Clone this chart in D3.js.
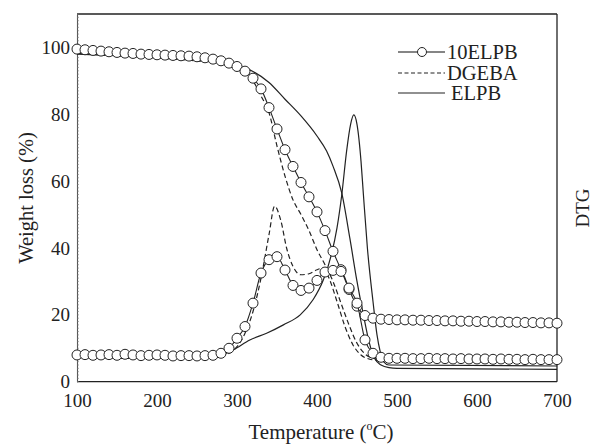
<!DOCTYPE html>
<html>
<head>
<meta charset="utf-8">
<script src="https://cdn.jsdelivr.net/npm/d3@7"></script>
<style>
  body { margin: 0; background: #fff; }
  svg text { font-family: "Liberation Serif", "DejaVu Serif", serif; }
</style>
</head>
<body>
<div id="view"></div>
<script>
// temperature grid of the marked series (every 10 degC)
var temps = [100,110,120,130,140,150,160,170,180,190,200,210,220,230,240,250,260,270,280,290,
  300,310,320,330,340,350,360,370,380,390,400,410,420,430,440,450,460,470,480,490,
  500,510,520,530,540,550,560,570,580,590,600,610,620,630,640,650,660,670,680,690,700];

// 10ELPB weight loss and DTG
var elpb10TG = [99.5,99.3,99.1,98.9,98.7,98.5,98.3,98.2,98.0,97.9,97.8,97.7,97.6,97.5,97.4,97.2,96.9,96.5,96.0,95.3,
  94.3,92.9,90.8,87.6,82.0,75.6,69.4,64.4,59.6,55.3,50.8,45.2,39.0,33.5,27.6,22.6,19.8,19.0,18.7,18.6,
  18.5,18.5,18.4,18.4,18.3,18.3,18.2,18.2,18.1,18.1,18.0,18.0,17.9,17.9,17.8,17.8,17.7,17.7,17.6,17.6,17.5];
var elpb10DTG = [8.0,8.1,7.9,8.0,8.1,7.9,8.2,8.0,7.8,7.9,8.0,7.9,7.7,7.8,7.8,7.7,7.8,7.9,8.5,10.0,
  13.0,16.5,23.5,32.5,36.5,37.4,33.4,28.8,27.3,28.0,30.3,32.8,33.3,33.0,28.0,23.5,12.5,8.5,7.3,7.0,
  7.0,7.0,6.9,6.9,7.0,6.9,6.9,6.8,6.9,6.8,6.8,6.8,6.7,6.8,6.7,6.7,6.6,6.7,6.6,6.6,6.6];

// DGEBA (dashed)
var dgebaTG_T = [100,150,200,250,280,300,310,320,330,340,350,360,370,380,390,400,410,420,430,440,450,460,470,480,500,600,700];
var dgebaTG =   [98.3,97.5,96.8,96.0,95.3,94.0,92.5,90.0,85.5,80.5,70.5,61.5,54.4,50.0,45.2,39.5,35.0,30.0,23.5,17.0,11.5,8.3,7.0,6.6,6.4,6.2,6.0];
var dgebaDTG_T = [100,200,270,290,300,310,320,330,340,347,355,362,370,380,390,400,408,415,425,435,445,455,465,480,600,700];
var dgebaDTG =   [7.2,7.0,7.2,8.5,10.5,14.5,21.0,31.0,44.0,52.5,48.0,40.0,34.5,32.0,32.3,33.5,34.0,31.0,24.0,16.5,11.0,8.0,6.8,6.3,6.1,6.0];

// ELPB (solid)
var elpbTG_T = [100,200,250,280,300,320,340,360,380,400,412,420,431,441,450,458,465,472,480,490,500,700];
var elpbTG =   [98.0,97.0,96.3,95.5,94.5,92.8,89.5,84.5,79.5,73.5,69.0,64.5,56.4,43.0,30.0,20.0,12.0,7.0,5.0,4.2,4.0,3.7];
var elpbDTG_T = [100,200,270,280,295,316,337,358,379,395,408,418,425,431,437,442,446,450,455,458,463,470,475,479,483,490,700];
var elpbDTG =   [7.3,7.0,7.5,8.0,9.5,12.5,14.5,17.0,20.0,24.5,30.5,38.0,46.0,56.0,69.0,77.0,79.8,77.0,66.0,56.0,40.0,24.0,14.0,9.0,6.0,5.0,4.7];

var xTicks = [100,200,300,400,500,600,700];
var yTicks = [0,20,40,60,80,100];
var legendNames = ["10ELPB","DGEBA","ELPB"];

var W = 593, H = 446;
var margin = {top: 14, right: 36, bottom: 64.3, left: 77},
    width = W - margin.left - margin.right,
    height = H - margin.top - margin.bottom;

var ink = "#222";

var svg = d3.select("#view")
    .append("svg")
    .attr("width", W)
    .attr("height", H);

var x = d3.scaleLinear().domain([100, 700]).range([margin.left, margin.left + width]);
var y = d3.scaleLinear().domain([0, 110]).range([margin.top + height, margin.top]);

// frame
var frame = svg.append("g");
frame.append("line").attr("x1", x(100)).attr("x2", x(700)).attr("y1", y(110)).attr("y2", y(110));
frame.append("line").attr("x1", x(700)).attr("x2", x(700)).attr("y1", y(110)).attr("y2", y(0));
frame.append("line").attr("x1", x(100)).attr("x2", x(700)).attr("y1", y(0)).attr("y2", y(0));
frame.selectAll("line").attr("stroke", ink).attr("stroke-width", 1.3);

// left axis with fine minor ticks
var yAxis = d3.axisLeft(y)
    .tickValues(yTicks)
    .tickSize(0)
    .tickPadding(7);
var gy = svg.append("g")
    .attr("transform", "translate(" + margin.left + ",0)")
    .call(yAxis)
    .attr("font-family", null);
gy.select(".domain").attr("stroke", "#555").attr("stroke-width", 1.1);
gy.selectAll("text").attr("font-size", 19).attr("fill", ink);

svg.append("g").selectAll("line")
    .data(d3.range(0, 111, 1))
    .enter().append("line")
    .attr("x1", x(100)).attr("x2", x(100) + 2)
    .attr("y1", function(d) { return y(d); })
    .attr("y2", function(d) { return y(d); })
    .attr("stroke", "#777")
    .attr("stroke-width", 0.6);

var xAxis = d3.axisBottom(x)
    .tickValues(xTicks)
    .tickSize(0)
    .tickPadding(12);
var gx = svg.append("g")
    .attr("transform", "translate(0," + y(0) + ")")
    .call(xAxis)
    .attr("font-family", null);
gx.select(".domain").remove();
gx.selectAll("text").attr("font-size", 19).attr("fill", ink);

// axis titles
var xt = svg.append("text")
    .attr("x", 321)
    .attr("y", 439)
    .attr("text-anchor", "middle")
    .attr("font-size", 21)
    .attr("fill", ink);
xt.append("tspan").text("Temperature (");
xt.append("tspan").attr("font-size", 12).attr("dy", -9).text("o");
xt.append("tspan").attr("dy", 9).text("C)");

svg.append("text")
    .attr("transform", "translate(33,198) rotate(-90)")
    .attr("text-anchor", "middle")
    .attr("font-size", 20.5)
    .attr("fill", ink)
    .text("Weight loss (%)");

svg.append("text")
    .attr("transform", "translate(589,208) rotate(-90)")
    .attr("text-anchor", "middle")
    .attr("font-size", 19)
    .attr("fill", ink)
    .text("DTG");

// curves
function pts(ts, vs) { return ts.map(function(t, i) { return [t, vs[i]]; }); }

var line = d3.line()
    .x(function(d) { return x(d[0]); })
    .y(function(d) { return y(d[1]); })
    .curve(d3.curveMonotoneX);

var plot = svg.append("g");

plot.append("path").datum(pts(elpbTG_T, elpbTG))
    .attr("d", line).attr("fill", "none").attr("stroke", ink).attr("stroke-width", 1.2);
plot.append("path").datum(pts(elpbDTG_T, elpbDTG))
    .attr("d", line).attr("fill", "none").attr("stroke", ink).attr("stroke-width", 1.2);

plot.append("path").datum(pts(dgebaTG_T, dgebaTG))
    .attr("d", line).attr("fill", "none").attr("stroke", ink).attr("stroke-width", 1.2)
    .attr("stroke-dasharray", "5,3");
plot.append("path").datum(pts(dgebaDTG_T, dgebaDTG))
    .attr("d", line).attr("fill", "none").attr("stroke", ink).attr("stroke-width", 1.2)
    .attr("stroke-dasharray", "5,3");

[elpb10TG, elpb10DTG].forEach(function(vs) {
    var data = pts(temps, vs);
    plot.append("path").datum(data)
        .attr("d", line).attr("fill", "none").attr("stroke", ink).attr("stroke-width", 1.1);
    plot.append("g").selectAll("circle")
        .data(data)
        .enter().append("circle")
        .attr("cx", function(d) { return x(d[0]); })
        .attr("cy", function(d) { return y(d[1]); })
        .attr("r", 5)
        .attr("fill", "#fff")
        .attr("stroke", ink)
        .attr("stroke-width", 1);
});

// legend
var lg = svg.append("g");
var rows = [52, 73, 93];
legendNames.forEach(function(name, i) {
    var ly = rows[i];
    if (i === 0) {
        lg.append("line").attr("x1", 398).attr("x2", 417).attr("y1", ly).attr("y2", ly);
        lg.append("line").attr("x1", 427).attr("x2", 445).attr("y1", ly).attr("y2", ly);
        lg.append("circle").attr("cx", 422).attr("cy", ly).attr("r", 4.5)
            .attr("fill", "#fff").attr("stroke", ink).attr("stroke-width", 1);
    } else {
        lg.append("line").attr("x1", 398).attr("x2", 445).attr("y1", ly).attr("y2", ly)
            .attr("stroke-dasharray", i === 1 ? "4,2.5" : null);
    }
    lg.append("text")
        .attr("x", i === 2 ? 451 : 447)
        .attr("y", ly + 7)
        .attr("font-size", 20.5)
        .attr("fill", ink)
        .text(name);
});
lg.selectAll("line").attr("stroke", ink).attr("stroke-width", 1.1);
</script>
</body>
</html>
